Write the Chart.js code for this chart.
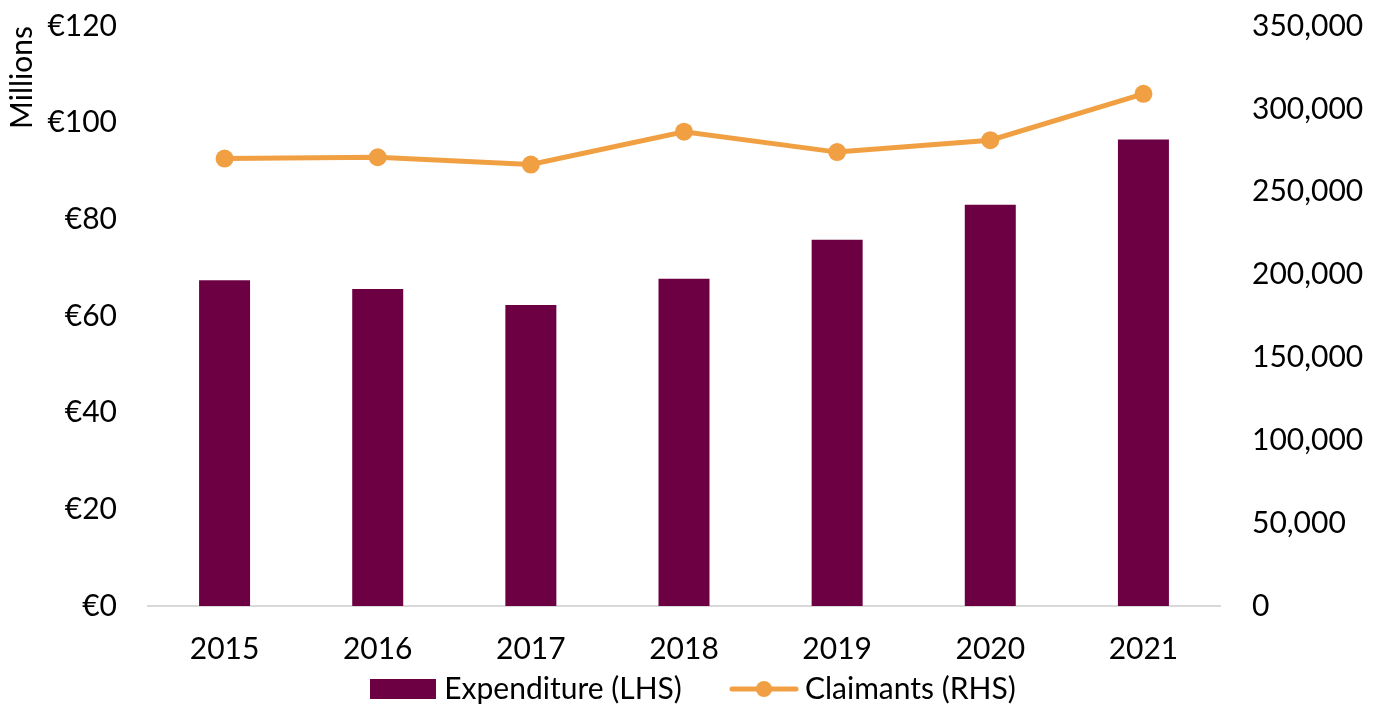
<!DOCTYPE html>
<html>
<head>
<meta charset="utf-8">
<script src="https://cdn.jsdelivr.net/npm/chart.js@4"></script>
<style>
  html, body { margin: 0; padding: 0; background: #fff; }
  #wrap { width: 1379px; height: 706px; position: relative; }
</style>
</head>
<body>
<div id="wrap"><canvas id="chart"></canvas></div>
<script>
// values
const years = ['2015', '2016', '2017', '2018', '2019', '2020', '2021'];
const expenditure = [67.4, 65.6, 62.3, 67.7, 75.8, 83.0, 96.5];   // € millions (LHS)
const claimants = [270000, 270800, 266400, 286200, 273900, 281100, 309100]; // RHS
const leftAxis = { min: 0, max: 120, step: 20 };
const rightAxis = { min: 0, max: 350000, step: 50000 };

const MAROON = '#6D0042';
const ORANGE = '#F0A042';
const FONT = 'Lato, "Open Sans", sans-serif';
const tickFont = { family: FONT, size: 30, lineHeight: 1 };

// legend swatches drawn as small images
function barSwatch() {
  const c = document.createElement('canvas');
  c.width = 66; c.height = 20;
  const g = c.getContext('2d');
  g.fillStyle = MAROON; g.fillRect(0, 0, 66, 20);
  return c;
}
function lineSwatch() {
  const c = document.createElement('canvas');
  c.width = 72; c.height = 20;
  const g = c.getContext('2d');
  g.strokeStyle = ORANGE; g.lineWidth = 5; g.lineCap = 'round';
  g.beginPath(); g.moveTo(4, 10); g.lineTo(68, 10); g.stroke();
  g.fillStyle = ORANGE;
  g.beginPath(); g.arc(36, 10, 8, 0, Math.PI * 2); g.fill();
  return c;
}
const swatches = [barSwatch(), lineSwatch()];
const legendGap = '      '; // space after the first legend entry

new Chart(document.getElementById('chart'), {
  data: {
    labels: years,
    datasets: [
      { type: 'bar', label: 'Expenditure (LHS)', data: expenditure, backgroundColor: MAROON,
        yAxisID: 'y', order: 2, barPercentage: 1, categoryPercentage: 0.333 },
      { type: 'line', label: 'Claimants (RHS)', data: claimants, borderColor: ORANGE, backgroundColor: ORANGE,
        borderWidth: 5, pointRadius: 9, pointHoverRadius: 9, pointBackgroundColor: ORANGE, pointBorderWidth: 0,
        tension: 0, yAxisID: 'y1', order: 1 },
    ],
  },
  options: {
    responsive: true,
    maintainAspectRatio: false,
    animation: false,
    layout: { padding: { top: 26, bottom: -8, left: 14 } },
    plugins: {
      tooltip: { enabled: false },
      legend: {
        position: 'bottom',
        labels: {
          color: '#000', font: { family: FONT, size: 30 },
          usePointStyle: true, pointStyleWidth: 52, boxHeight: 20, padding: 10,
          sort: (a, b) => a.datasetIndex - b.datasetIndex,
          generateLabels(chart) {
            const items = Chart.defaults.plugins.legend.labels.generateLabels(chart);
            items.forEach(it => {
              it.pointStyle = swatches[it.datasetIndex];
              if (it.datasetIndex === 0) it.text += legendGap;
            });
            return items;
          },
        },
      },
    },
    scales: {
      x: {
        grid: { display: false, drawTicks: false },
        border: { display: true, color: '#D9D9D9', width: 2 },
        ticks: { color: '#000', font: tickFont, padding: 28 },
        afterFit: s => { s.height = 58; },
      },
      y: {
        position: 'left', min: leftAxis.min, max: leftAxis.max,
        grid: { display: false, drawTicks: true, tickLength: 31 },
        border: { display: false },
        ticks: { stepSize: leftAxis.step, color: '#000', font: tickFont, padding: 0,
          callback: v => '€' + v },
        title: { display: true, text: 'Millions', align: 'end', color: '#000', font: { family: FONT, size: 30 }, padding: { top: -10, bottom: 0 } },
        afterFit: s => { s.width = 134; },
      },
      y1: {
        position: 'right', min: rightAxis.min, max: rightAxis.max,
        grid: { display: false, drawTicks: true, tickLength: 32 },
        border: { display: false },
        ticks: { stepSize: rightAxis.step, color: '#000', font: tickFont, padding: 0,
          callback: v => v.toLocaleString('en-US') },
        afterFit: s => { s.width = 159; },
      },
    },
  },
});
</script>
</body>
</html>
